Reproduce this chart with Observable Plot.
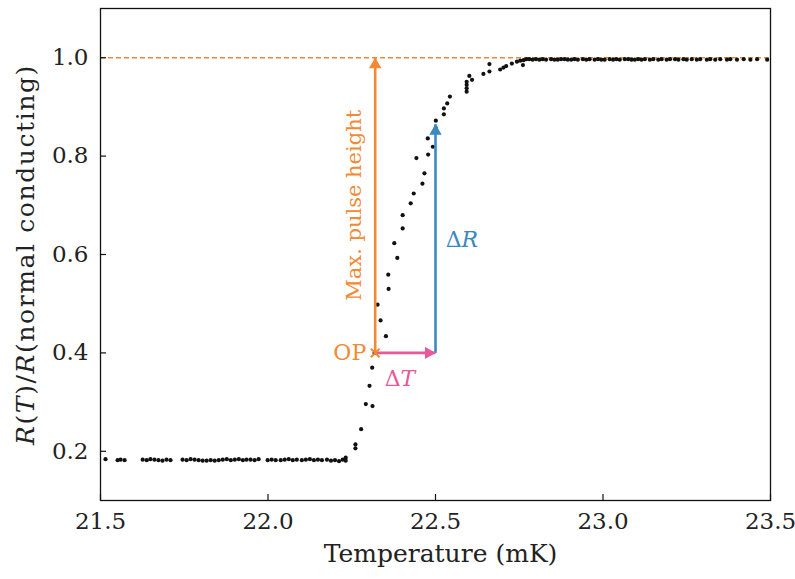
<!DOCTYPE html>
<html><head><meta charset="utf-8">
<script src="https://cdn.jsdelivr.net/npm/d3@7"></script>
<script src="https://cdn.jsdelivr.net/npm/@observablehq/plot@0.6"></script>
<style>body{margin:0;background:#fff;} svg{display:block}</style>
</head><body><div id="chart"></div>
<script>
// Superconducting plateau
const lowT = [21.515,21.551,21.560,21.572,21.626,21.638,21.649,21.661,21.673,21.685,21.697,21.709,
  21.745,21.757,21.769,21.781,21.793,21.805,21.817,21.829,21.841,21.853,21.865,21.877,21.889,21.901,21.913,21.925,21.936,
  21.948,21.960,21.972,21.999,22.011,22.023,22.038,22.050,22.062,22.074,22.086,22.101,22.113,22.125,22.137,22.149,22.161,
  22.176,22.188,22.200,22.212,22.223,22.232,22.232];
const lowR = [0.184,0.182,0.183,0.182,0.183,0.182,0.184,0.183,0.182,0.181,0.183,0.182,
  0.183,0.182,0.184,0.183,0.182,0.181,0.181,0.182,0.181,0.182,0.183,0.184,0.182,0.183,0.184,0.182,0.183,
  0.183,0.182,0.184,0.182,0.183,0.182,0.182,0.183,0.184,0.182,0.183,0.182,0.183,0.184,0.182,0.183,0.182,
  0.183,0.181,0.182,0.180,0.183,0.187,0.181];
// Transition region
const transT = [22.261,22.261,22.278,22.292,22.312,22.303,22.311,22.318,22.352,22.336,22.327,22.360,22.359,22.386,22.377,
  22.402,22.402,22.426,22.435,22.461,22.467,22.443,22.478,22.492,22.477,22.501,22.501,22.525,22.525,22.535,22.543,
  22.593,22.593,22.593,22.593,22.601,22.609,22.643,22.661,22.661,22.693,22.703,22.711,22.728,22.743,22.753,22.763,22.771,22.761];
const transR = [0.206,0.214,0.245,0.296,0.292,0.333,0.370,0.400,0.434,0.466,0.498,0.530,0.559,0.593,0.623,
  0.653,0.680,0.704,0.724,0.744,0.765,0.796,0.803,0.819,0.836,0.857,0.872,0.885,0.897,0.907,0.921,
  0.931,0.938,0.945,0.951,0.963,0.955,0.967,0.972,0.987,0.976,0.980,0.983,0.988,0.992,0.994,0.995,0.997,0.985];
// Normal conducting plateau
const highT = [22.780,22.790,22.800,22.810,22.820,22.830,22.845,22.855,22.865,22.875,22.885,22.895,22.905,22.915,22.925,
  22.940,22.950,22.960,22.975,22.985,22.995,23.005,23.020,23.030,23.040,23.050,23.065,23.075,23.085,23.095,23.105,
  23.115,23.125,23.140,23.150,23.165,23.175,23.190,23.200,23.215,23.225,23.240,23.250,23.265,23.280,23.290,23.310,
  23.320,23.335,23.350,23.370,23.380,23.400,23.420,23.440,23.460,23.490];
const highR = [0.997,0.996,0.997,0.996,0.997,0.996,0.997,0.996,0.996,0.997,0.997,0.996,0.996,0.997,0.996,
  0.997,0.996,0.997,0.996,0.997,0.996,0.996,0.997,0.996,0.997,0.996,0.997,0.997,0.996,0.996,0.997,
  0.996,0.997,0.996,0.997,0.996,0.997,0.996,0.997,0.997,0.996,0.997,0.996,0.997,0.996,0.997,0.996,
  0.997,0.996,0.997,0.996,0.997,0.996,0.997,0.996,0.997,0.996];

const xTicks = [21.5, 22.0, 22.5, 23.0, 23.5];
const yTicks = [0.2, 0.4, 0.6, 0.8, 1.0];
const xLabel = "Temperature (mK)";
const yLabel = "R(T)/R(normal conducting)";

// Annotation anchors (data units)
const opT = 22.32, opR = 0.40;
const maxR = 1.0;
const dTtipT = 22.50;
const dRtipR = 0.865;

const ORANGE = "#f28a35", BLUE = "#3a89c0", PINK = "#e8589b";

const points = [
  ...lowT.map((t, i) => ({t, r: lowR[i]})),
  ...transT.map((t, i) => ({t, r: transR[i]})),
  ...highT.map((t, i) => ({t, r: highR[i]}))
];

const W = 795, H = 579, mL = 100, mR = 25, mT = 8, mB = 79;
const fw = W - mL - mR, fh = H - mT - mB;

const plot = Plot.plot({
  width: W, height: H,
  marginLeft: mL, marginRight: mR, marginTop: mT, marginBottom: mB,
  style: {fontFamily: "'DejaVu Serif', serif", fontSize: "23px", color: "#222", background: "white"},
  x: {domain: [21.5, 23.5]},
  y: {domain: [0.1, 1.1]},
  marks: [
    Plot.ruleY([maxR], {stroke: ORANGE, strokeWidth: 1.5, strokeDasharray: "5,3"}),
    Plot.dot(points, {x: "t", y: "r", r: 2.1, fill: "#111", stroke: "none"}),
    // Max pulse height arrow (orange)
    Plot.link([{x1: opT, y1: opR, x2: opT, y2: maxR}], {x1: "x1", y1: "y1", x2: "x2", y2: "y2", stroke: ORANGE, strokeWidth: 2.6}),
    Plot.dot([{t: opT, r: maxR}], {x: "t", y: "r", symbol: "triangle", r: 4.6, fill: ORANGE, dy: 7}),
    // Delta R arrow (blue)
    Plot.link([{x1: dTtipT, y1: opR, x2: dTtipT, y2: dRtipR}], {x1: "x1", y1: "y1", x2: "x2", y2: "y2", stroke: BLUE, strokeWidth: 2.6}),
    Plot.dot([{t: dTtipT, r: dRtipR}], {x: "t", y: "r", symbol: "triangle", r: 4.6, fill: BLUE, dy: 7}),
    // Delta T arrow (pink)
    Plot.link([{x1: opT, y1: opR, x2: dTtipT, y2: opR}], {x1: "x1", y1: "y1", x2: "x2", y2: "y2", stroke: PINK, strokeWidth: 2.6}),
    Plot.dot([{t: dTtipT, r: opR}], {x: "t", y: "r", symbol: "triangle", r: 4.6, fill: PINK, rotate: 90, dx: -7}),
    // OP marker
    Plot.dot([{t: opT, r: opR}], {x: "t", y: "r", symbol: "times", r: 4, stroke: ORANGE, strokeWidth: 2}),
    // Labels
    Plot.text([{t: opT, r: opR, s: "OP"}], {x: "t", y: "r", text: "s", textAnchor: "end", dx: -9, fill: ORANGE, fontSize: 22}),
    Plot.text([{t: 22.259, r: 0.70, s: "Max. pulse height"}], {x: "t", y: "r", text: "s", rotate: -90, fill: ORANGE, fontSize: 21}),
    Plot.text([{t: 22.579, r: 0.63, s: "ΔR"}], {x: "t", y: "r", text: "s", fill: BLUE, fontSize: 22}),
    Plot.text([{t: 22.394, r: 0.347, s: "ΔT"}], {x: "t", y: "r", text: "s", fill: PINK, fontSize: 22}),
    // Inward ticks
    Plot.tickY(yTicks, {y: d => d, stroke: "#111", strokeWidth: 1.2, insetRight: fw - 6}),
    Plot.tickX(xTicks, {x: d => d, stroke: "#111", strokeWidth: 1.2, insetTop: fh - 6}),
    Plot.axisX(xTicks, {tickSize: 0, tickPadding: 12, tickFormat: d3.format(".1f"), label: null, fill: "#222"}),
    Plot.axisY(yTicks, {tickSize: 0, tickPadding: 12, tickFormat: d3.format(".1f"), label: null, fill: "#222"}),
    Plot.frame({stroke: "#111", strokeWidth: 1.3}),
    // Axis titles
    Plot.text([xLabel], {text: d => d, frameAnchor: "bottom", lineAnchor: "middle", textAnchor: "middle", dy: 53, dx: 5, fontSize: 25, fill: "#222"}),
    Plot.text([yLabel], {text: d => d, frameAnchor: "left", textAnchor: "middle", lineAnchor: "middle", dx: -75, rotate: -90, fontSize: 25, fill: "#222"})
  ]
});

// Italicize math symbols
d3.select(plot).selectAll("text").each(function() {
  const el = d3.select(this);
  const s = this.textContent;
  if (s === "ΔR" || s === "ΔT") {
    el.text(null);
    el.append("tspan").text("Δ");
    el.append("tspan").attr("font-style", "italic").text(s.slice(1));
  } else if (s === yLabel) {
    el.text(null);
    el.attr("letter-spacing", "1.6px");
    const parts = [["R", true], ["(", false], ["T", true], [")/", false], ["R", true], ["(normal conducting)", false]];
    for (const [p, it] of parts) {
      const ts = el.append("tspan").text(p);
      if (it) ts.attr("font-style", "italic");
    }
  }
});

document.getElementById("chart").appendChild(plot);
</script>
</body></html>
